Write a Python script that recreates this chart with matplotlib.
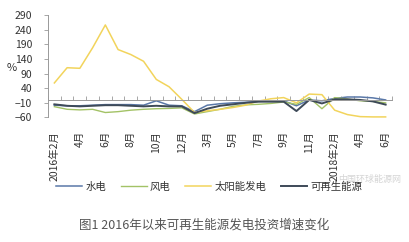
import matplotlib
matplotlib.use("Agg")
import matplotlib.pyplot as plt
import numpy as np

plt.rcParams['font.family'] = ['Noto Sans CJK SC', 'DejaVu Sans']

labels = ["2016年2月", "", "4月", "", "6月", "", "8月", "", "10月", "", "12月", "",
          "3月", "", "5月", "", "7月", "", "9月", "", "11月", "", "2018年2月", "", "4月", "", "6月"]
hydro = [-18, -20, -20, -18, -16, -16, -16, -18, -3, -18, -20, -40, -18, -13, -10, -8, -5, -3, -3, -20, 0, -3, 5, 10, 10, 7, 0]
wind = [-23, -32, -34, -32, -43, -40, -35, -32, -30, -29, -27, -48, -40, -32, -22, -17, -15, -12, -7, -15, 8, -30, 8, 3, -3, -5, -10]
solar = [58, 110, 108, 178, 256, 172, 155, 132, 70, 45, 2, -43, -37, -32, -26, -18, -4, 4, 8, -10, 20, 18, -35, -50, -57, -58, -58]
renew = [-15, -20, -22, -20, -18, -18, -20, -22, -20, -22, -22, -45, -30, -20, -15, -10, -6, -6, -6, -38, 0, -12, 2, 2, 0, -5, -16]
series_names = ["水电", "风电", "太阳能发电", "可再生能源"]
colors = ["#5A78A8", "#A3C266", "#F2D45C", "#3E4A58"]
yticks = [-60, -10, 40, 90, 140, 190, 240, 290]

fig = plt.figure(figsize=(4.09, 2.42), dpi=100)
ax = fig.add_axes([48/409, 1-117.5/242, (392-48)/409, (117.5-15)/242])
x = np.arange(len(labels))
for vals, c, name, lw in zip([hydro, wind, solar, renew], colors, series_names, [1.1, 1.0, 1.1, 1.4]):
    ax.plot(x, vals, color=c, lw=lw, label=name, solid_joinstyle='round')

ax.set_xlim(-0.5, len(labels) - 0.5)
ax.set_ylim(-60, 290)
ax.set_yticks(yticks)
ax.tick_params(axis='y', length=3, width=0.6, color='#999999', labelsize=7.5, labelcolor='#333333', pad=8.5)
for s in ['top', 'right']:
    ax.spines[s].set_visible(False)
ax.spines['left'].set_color('#999999')
ax.spines['left'].set_linewidth(0.7)
ax.spines['bottom'].set_position(('data', 0))
ax.spines['bottom'].set_color('#999999')
ax.spines['bottom'].set_linewidth(0.7)
ax.set_xticks(np.arange(-0.5, len(labels), 1.0))
ax.tick_params(axis='x', direction='in', length=3, width=0.6, color='#999999', labelbottom=False)

xt = ax.get_xaxis_transform()
for xi, lab in zip(x, labels):
    if lab:
        ax.text(xi, -0.13, lab, transform=xt, rotation=90, ha='center', va='top',
                fontsize=7.5, color='#333333')

fig.text(12/409, 1-68/242, "%", fontsize=8, color='#333333', ha='center', va='center')

leg = fig.legend(loc='center', bbox_to_anchor=(209/409, 1-187/242), ncol=4, frameon=False,
                 fontsize=7.5, handlelength=2.5, handletextpad=0.3, columnspacing=1.4,
                 labelcolor='#333333')

fig.text(370/409, 1-179/242, "中国环球能源网", fontsize=6.5, color='#d5d5d5', ha='center', va='center')
fig.text(204/409, 1-225/242, "图1 2016年以来可再生能源发电投资增速变化", fontsize=9, color='#555555',
         ha='center', va='center')

fig.savefig("out.png", dpi=100)
